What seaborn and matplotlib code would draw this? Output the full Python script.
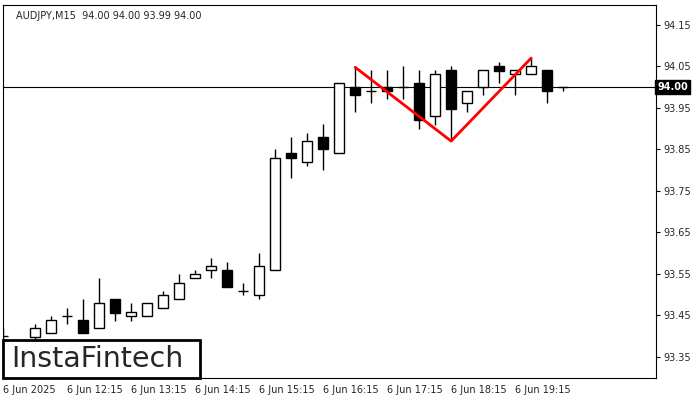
import matplotlib
matplotlib.use("Agg")
import matplotlib.pyplot as plt
import seaborn as sns
import pandas as pd
import numpy as np
from matplotlib.patches import Rectangle

opens  = [93.40,93.38,93.398,93.407,93.448,93.439,93.419,93.489,93.448,93.448,93.467,93.489,93.540,93.559,93.559,93.508,93.499,93.559,93.841,93.819,93.880,93.841,94.000,93.990,94.000,94.000,94.010,93.930,94.041,93.961,94.000,94.051,94.031,94.031,94.041,94.000]
highs  = [93.42,93.39,93.429,93.448,93.467,93.489,93.540,93.489,93.480,93.480,93.508,93.549,93.559,93.588,93.578,93.528,93.600,93.851,93.880,93.889,93.911,94.010,94.048,94.041,94.041,94.051,94.041,94.041,94.051,93.990,94.041,94.060,94.041,94.070,94.041,94.000]
lows   = [93.36,93.36,93.390,93.407,93.429,93.407,93.419,93.436,93.436,93.448,93.467,93.489,93.540,93.540,93.518,93.499,93.489,93.559,93.781,93.810,93.800,93.841,93.940,93.961,93.971,93.971,93.899,93.908,93.870,93.940,93.981,94.010,93.981,94.031,93.961,93.990]
closes = [93.40,93.37,93.419,93.439,93.448,93.407,93.480,93.455,93.458,93.480,93.499,93.528,93.549,93.569,93.518,93.508,93.569,93.829,93.829,93.870,93.851,94.010,93.981,93.990,93.990,94.000,93.920,94.031,93.947,93.990,94.041,94.039,94.041,94.051,93.990,94.000]
pattern_idx = [22, 28, 33]
pattern_px = [94.048, 93.870, 94.070]
xtick_idx = [0, 4, 8, 12, 16, 20, 24, 28, 32]
xtick_lbl = ["6 Jun 2025", "6 Jun 12:15", "6 Jun 13:15", "6 Jun 14:15", "6 Jun 15:15",
             "6 Jun 16:15", "6 Jun 17:15", "6 Jun 18:15", "6 Jun 19:15"]
ytick_vals = [93.35, 93.45, 93.55, 93.65, 93.75, 93.85, 93.95, 94.05, 94.15]
current = 94.00
title = "AUDJPY,M15  94.00 94.00 93.99 94.00"

sns.set_style("white")
plt.rcParams['font.family'] = ['DejaVu Sans']
fig = plt.figure(figsize=(7, 4), dpi=100)
ax = fig.add_axes([3/700, 22/400, 653/700, 373/400])
df = pd.DataFrame(dict(i=np.arange(len(opens)), o=opens, h=highs, l=lows, c=closes))
w = 0.6
for r in df.itertuples():
    ax.vlines(r.i, r.l, r.h, color="black", lw=1, zorder=2)
    lo, hi = min(r.o, r.c), max(r.o, r.c)
    if hi - lo < 0.002:
        ax.hlines(r.o, r.i - w/2, r.i + w/2, color="black", lw=1, zorder=3)
    else:
        fc = "white" if r.c >= r.o else "black"
        ax.add_patch(Rectangle((r.i - w/2, lo), w, hi - lo, fc=fc, ec="black", lw=1, zorder=3))
ax.axhline(current, color="black", lw=0.8, zorder=1)
sns.lineplot(x=pattern_idx, y=pattern_px, color="red", lw=2, ax=ax, zorder=5)
ax.set_xlim(0, 40.8)
ax.set_ylim(93.299, 94.198)
ax.yaxis.tick_right()
ax.set_yticks(ytick_vals)
ax.set_yticklabels([f"{v:.2f}" for v in ytick_vals], fontsize=7)
ax.set_xticks(xtick_idx)
ax.set_xticklabels(xtick_lbl, fontsize=7, ha="left")
ax.tick_params(length=3, width=0.8, color="black", pad=2)
for s in ax.spines.values():
    s.set_color("black"); s.set_linewidth(0.8)
ax.text(1.002, current, "94.00", transform=ax.get_yaxis_transform(), va="center", ha="left",
        fontsize=7, color="white", fontweight="bold",
        bbox=dict(fc="black", ec="black", pad=1.5))
ax.text(0.02, 0.985, title, transform=ax.transAxes, fontsize=7, va="top", ha="left")
fig.patches.append(Rectangle((3/700, 22/400), 197/700, 38/400, transform=fig.transFigure,
                             fc="white", ec="black", lw=2, zorder=10))
fig.text(11/700, 41/400, "InstaFintech", fontsize=20.5, va="center", ha="left", zorder=11)
fig.savefig("out.png", dpi=100)
